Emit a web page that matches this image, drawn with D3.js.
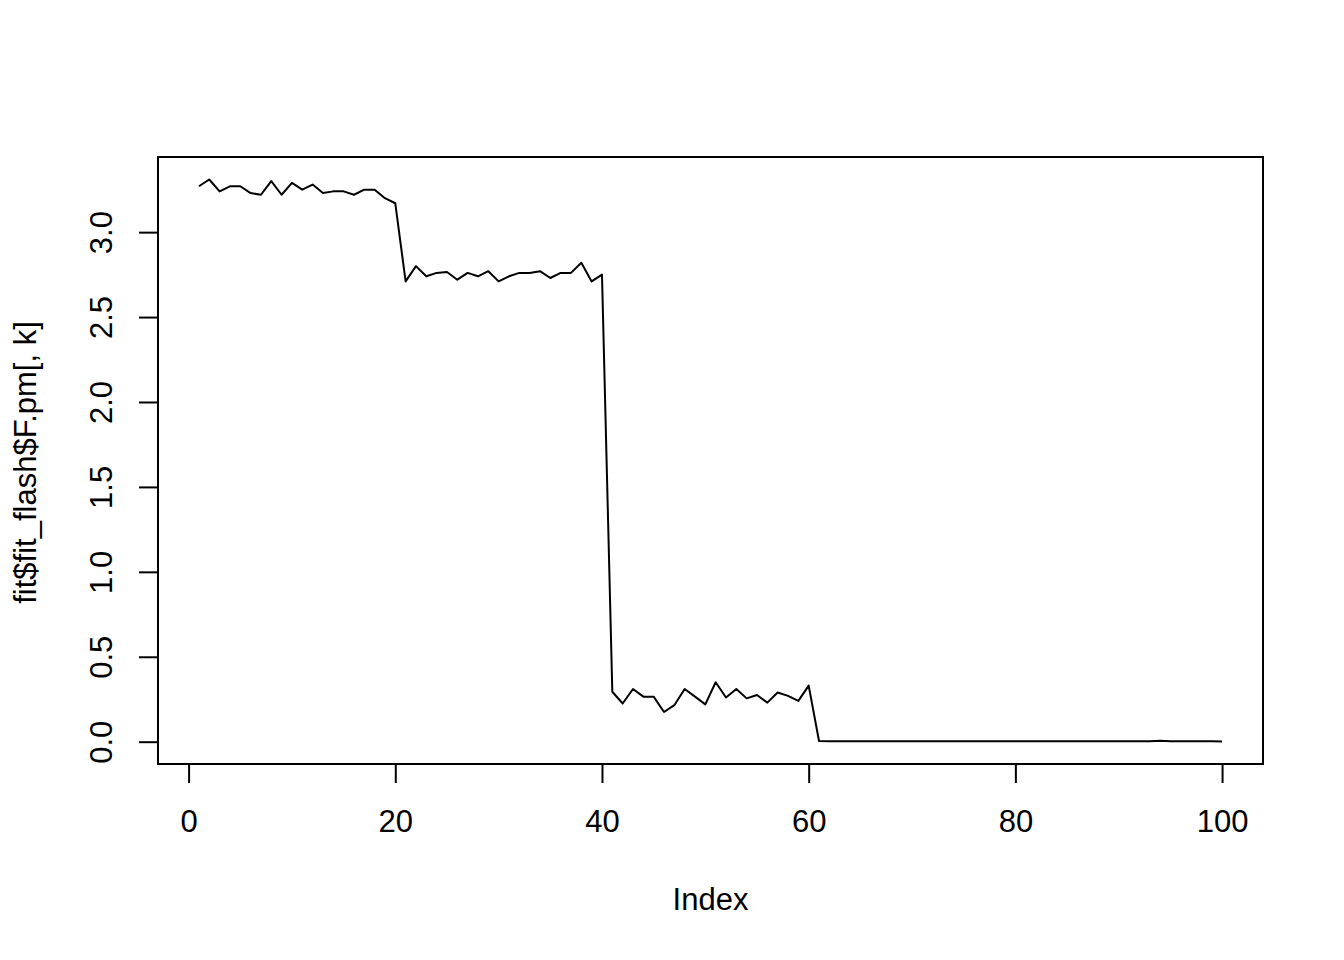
<!DOCTYPE html>
<html>
<head>
<meta charset="utf-8">
<script src="https://cdn.jsdelivr.net/npm/d3@7"></script>
<style>
  body { margin: 0; background: #fff; }
  svg text { font-family: "Liberation Sans", Arial, Helvetica, sans-serif; fill: #000; }
</style>
</head>
<body>
<svg id="chart" width="1344" height="960"></svg>
<script>
// values, index 1..100
const values = [
  3.27, 3.31, 3.24, 3.27, 3.27, 3.23, 3.22, 3.30, 3.22, 3.29,
  3.25, 3.28, 3.23, 3.24, 3.24, 3.22, 3.25, 3.25, 3.20, 3.17,
  2.71, 2.80, 2.74, 2.76, 2.765, 2.72, 2.76, 2.74, 2.77, 2.71,
  2.74, 2.76, 2.76, 2.77, 2.73, 2.76, 2.76, 2.82, 2.71, 2.75,
  0.294, 0.225, 0.31, 0.265, 0.265, 0.175, 0.215, 0.31, 0.265, 0.22,
  0.35, 0.26, 0.31, 0.255, 0.275, 0.23, 0.29, 0.27, 0.24, 0.33,
  0.004, 0.003, 0.003, 0.003, 0.002, 0.002, 0.002, 0.002, 0.002, 0.002,
  0.002, 0.002, 0.002, 0.002, 0.002, 0.002, 0.002, 0.003, 0.002, 0.002,
  0.002, 0.002, 0.002, 0.003, 0.002, 0.002, 0.002, 0.002, 0.002, 0.002,
  0.002, 0.002, 0.002, 0.006, 0.003, 0.002, 0.002, 0.003, 0.002, 0.001
];
const xTicks = [0, 20, 40, 60, 80, 100];
const yTicks = [0, 0.5, 1, 1.5, 2, 2.5, 3];
const xLabel = 'Index';
const yLabel = 'fit$fit_flash$F.pm[, k]';

const data = values.map((v, i) => ({index: i + 1, value: v}));

const box = {left: 158, right: 1263, top: 157, bottom: 764};
const fontSize = '31px';

// R style 4% padding on both axes
const pad = (lo, hi) => [lo - (hi - lo) * 0.04, hi + (hi - lo) * 0.04];

const x = d3.scaleLinear()
  .domain(pad(1, values.length))
  .range([box.left, box.right]);

const y = d3.scaleLinear()
  .domain(pad(d3.min(values), d3.max(values)))
  .range([box.bottom, box.top]);

const svg = d3.select('#chart');

const line = d3.line()
  .x(d => x(d.index))
  .y(d => y(d.value));

svg.append('path')
  .datum(data)
  .attr('fill', 'none')
  .attr('stroke', '#000')
  .attr('stroke-width', 2)
  .attr('stroke-linejoin', 'round')
  .attr('d', line);

// box
svg.append('rect')
  .attr('x', box.left)
  .attr('y', box.top)
  .attr('width', box.right - box.left)
  .attr('height', box.bottom - box.top)
  .attr('fill', 'none')
  .attr('stroke', '#000')
  .attr('stroke-width', 2);

// x axis
const xAxis = d3.axisBottom(x)
  .tickValues(xTicks)
  .tickSize(19)
  .tickPadding(0)
  .tickFormat(d3.format('d'));

const axisX = svg.append('g')
  .attr('transform', `translate(0, ${box.bottom})`)
  .call(xAxis);

axisX.select('.domain')
  .attr('d', `M${x(xTicks[0])},0H${x(xTicks[xTicks.length - 1])}`)
  .attr('stroke-width', 2);
axisX.selectAll('.tick line').attr('stroke-width', 2);
axisX.selectAll('.tick text')
  .attr('y', 68)
  .attr('dy', null)
  .style('font-size', fontSize);

// y axis
const yAxis = d3.axisLeft(y)
  .tickValues(yTicks)
  .tickSize(19)
  .tickFormat(d3.format('.1f'));

const axisY = svg.append('g')
  .attr('transform', `translate(${box.left}, 0)`)
  .call(yAxis);

axisY.select('.domain')
  .attr('d', `M0,${y(yTicks[0])}V${y(yTicks[yTicks.length - 1])}`)
  .attr('stroke-width', 2);
axisY.selectAll('.tick line').attr('stroke-width', 2);
axisY.selectAll('.tick text')
  .attr('x', null)
  .attr('dy', null)
  .attr('text-anchor', 'middle')
  .attr('transform', 'translate(-46, 0) rotate(-90)')
  .style('font-size', fontSize);

// axis titles
svg.append('text')
  .attr('x', (box.left + box.right) / 2)
  .attr('y', 910)
  .attr('text-anchor', 'middle')
  .style('font-size', fontSize)
  .text(xLabel);

svg.append('text')
  .attr('transform', `translate(36, ${(box.top + box.bottom) / 2 + 2}) rotate(-90)`)
  .attr('text-anchor', 'middle')
  .style('font-size', fontSize)
  .text(yLabel);
</script>
</body>
</html>
